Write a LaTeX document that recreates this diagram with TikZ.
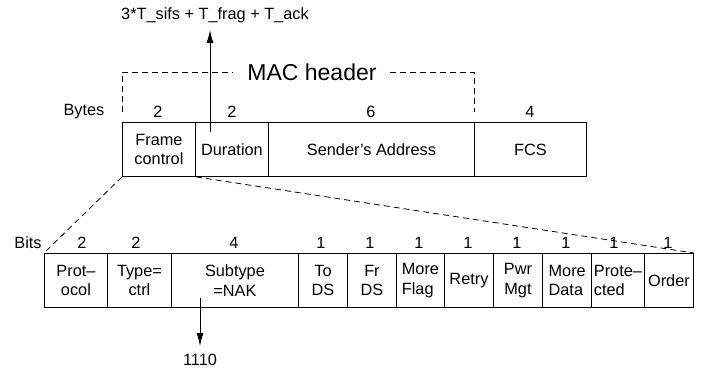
\documentclass[tikz,border=0pt]{standalone}
\usepackage{fontspec}
\setmainfont{Liberation Sans}
\usetikzlibrary{arrows.meta}
\begin{document}
\begin{tikzpicture}[x=1pt,y=-1pt,
  field/.style={draw, line width=0.9pt, inner sep=0pt, anchor=north west, font=\fontsize{16.3}{19.5}\selectfont, align=center},
  lbl/.style={inner sep=0pt, font=\fontsize{16.3}{19.5}\selectfont},
  zoomline/.style={dashed, dash pattern=on 6pt off 4pt, line width=0.8pt},
  ptr/.style={line width=0.9pt, -{Latex[length=13pt,width=7pt]}}]
\useasboundingbox (0,0) rectangle (704,373);
% top row
\node[field, minimum width=73pt, minimum height=54pt] (fc) at (122,122) {Frame\\control};
\node[field, minimum width=73pt, minimum height=54pt] (dur) at (195,122) {Duration};
\node[field, minimum width=206pt, minimum height=54pt] (sa) at (268,122) {Sender’s Address};
\node[field, minimum width=112pt, minimum height=54pt] (fcs) at (474,122) {FCS};
\node[lbl] (bytes) at (84,112) {Bytes};
\node[lbl] (b1) at (158,112) {2};
\node[lbl] (b2) at (232,112) {2};
\node[lbl] (b3) at (371,112) {6};
\node[lbl] (b4) at (530,112) {4};
% MAC header
\node[inner sep=0pt, font=\fontsize{23}{26}\selectfont] (mac) at (312,72) {MAC header};
\draw[zoomline] (122,112) -- (122,72) -- (233,72);
\draw[zoomline] (390,72) -- (474,72) -- (474,112);
% duration arrow
\node[lbl] (tlbl) at (215,15) {3*T\_sifs + T\_frag + T\_ack};
\coordinate (durin) at (210,132);
\coordinate (durtip) at (210,30);
\draw[ptr] (durin) -- (durtip);
% bottom row
\node[field, minimum width=63pt, minimum height=54pt] (proto) at (44,253) {Prot–\\ocol};
\node[field, minimum width=64pt, minimum height=54pt] (type) at (107,253) {Type=\\ctrl};
\node[field, minimum width=127pt, minimum height=54pt] (sub) at (171,253) {Subtype\\=NAK};
\node[field, minimum width=49pt, minimum height=54pt] (tods) at (298,253) {To\\DS};
\node[field, minimum width=49pt, minimum height=54pt] (frds) at (347,253) {Fr\\DS};
\node[field, minimum width=48pt, minimum height=54pt, align=left] (mf) at (396,253) {More\\Flag};
\node[field, minimum width=49pt, minimum height=54pt] (retry) at (444,253) {Retry};
\node[field, minimum width=49pt, minimum height=54pt] (pwr) at (493,253) {Pwr\\Mgt};
\node[field, minimum width=49pt, minimum height=54pt, align=left, line width=1.4pt] (md) at (542,253) {More\\Data};
\node[field, minimum width=53pt, minimum height=54pt, align=left] (prot) at (591,253) {Prote–\\cted};
\node[field, minimum width=49pt, minimum height=54pt] (order) at (644,253) {Order};
\node[lbl] (bits) at (28,243) {Bits};
\node[lbl] (c1) at (82,243) {2};
\node[lbl] (c2) at (136,243) {2};
\node[lbl] (c3) at (234,243) {4};
\node[lbl] (c4) at (321,243) {1};
\node[lbl] (c5) at (370,243) {1};
\node[lbl] (c6) at (419,243) {1};
\node[lbl] (c7) at (468,243) {1};
\node[lbl] (c8) at (517,243) {1};
\node[lbl] (c9) at (566,243) {1};
\node[lbl] (c10) at (614,243) {1};
\node[lbl] (c11) at (668,243) {1};
% zoom lines
\draw[zoomline] (fc.south west) -- (proto.north west);
\draw[zoomline] (fc.south east) -- (order.north east);
% subtype arrow
\node[lbl] (nak) at (200,360) {1110};
\coordinate (subin) at (200,298);
\coordinate (subtip) at (200,346);
\draw[ptr] (subin) -- (subtip);
\end{tikzpicture}
\end{document}
